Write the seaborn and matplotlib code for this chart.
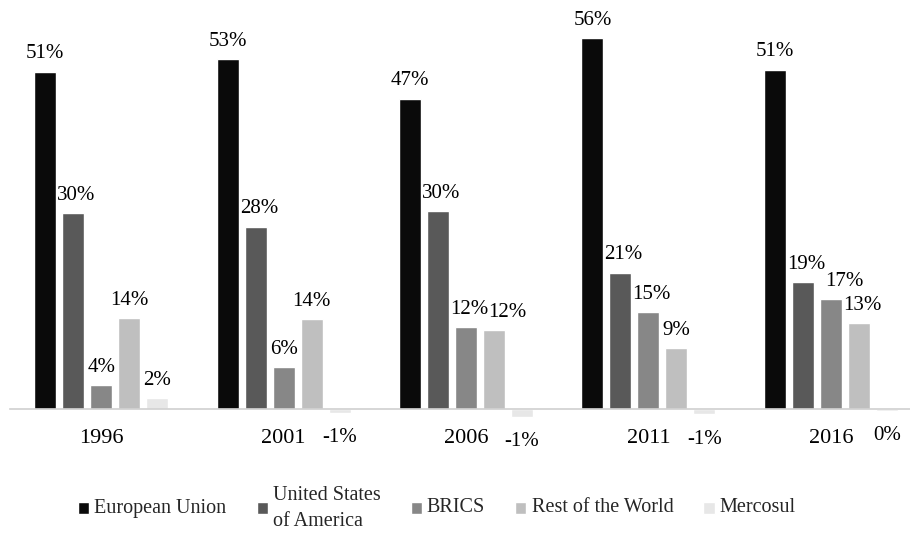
import matplotlib
matplotlib.use("Agg")
import matplotlib.pyplot as plt
import seaborn as sns
import pandas as pd

years = ["1996", "2001", "2006", "2011", "2016"]
series = ["European Union", "United States\nof America", "BRICS", "Rest of the World", "Mercosul"]
eu = [50.9, 52.8, 46.8, 55.9, 51.2]
usa = [29.6, 27.5, 29.9, 20.6, 19.1]
brics = [3.6, 6.3, 12.4, 14.6, 16.6]
rest = [13.7, 13.6, 11.9, 9.2, 13.0]
mercosul = [1.7, -0.6, -1.2, -0.8, -0.3]
colors = ["#0a0a0a", "#595959", "#878787", "#bfbfbf", "#e7e7e7"]

rows = []
for name, vals in zip(series, [eu, usa, brics, rest, mercosul]):
    for y, v in zip(years, vals):
        rows.append({"year": y, "series": name, "value": v})
df = pd.DataFrame(rows)

sns.set_theme(style="white")
plt.rcParams["font.family"] = ["Liberation Serif", "DejaVu Serif"]

fig = plt.figure(figsize=(9.10, 5.33), dpi=100)
# baseline at y=409px, 6.63 px per percentage point, xlim -0.5..4.5 -> 10..922px
ax = fig.add_axes([10 / 910, (533 - 429) / 533, 912 / 910, 63 * 6.63 / 533])
sns.barplot(df, x="year", y="value", hue="series", palette=colors,
            width=0.767, gap=0.214, saturation=1, ax=ax, legend=True)
ax.set_xlim(-0.5, 4.5)
ax.set_ylim(-3, 60)

# labels[group][series] = (annotation, bar)
labels = [[] for _ in years]
for cont in ax.containers:
    for g, bar in enumerate(cont):
        h = bar.get_height()
        x = bar.get_x() + bar.get_width() / 2
        txt = f"{round(h):d}%"
        if h >= 0:
            a = ax.annotate(txt, (x, h), xytext=(0, 6), textcoords="offset points",
                            ha="center", va="bottom", fontsize=15, color="black")
        else:
            a = ax.annotate(txt, (x, h), xytext=(0, -11), textcoords="offset points",
                            ha="center", va="top", fontsize=15, color="black")
        labels[g].append((a, bar))

for s in ["top", "right", "left"]:
    ax.spines[s].set_visible(False)
ax.spines["bottom"].set_position(("data", 0))
ax.spines["bottom"].set_color("#d0d0d0")
ax.spines["bottom"].set_linewidth(1.2)
ax.set_yticks([])
ax.tick_params(axis="x", length=0, pad=14, labelsize=16, labelcolor="black")
ax.set_xlabel("")
ax.set_ylabel("")

# nudge labels right when they run into the previous bar or label (like Excel)
fig.canvas.draw()
r = fig.canvas.get_renderer()
for group in labels:
    for i in range(1, len(group)):
        a, bar = group[i]
        if bar.get_height() < 0:
            continue
        bb = a.get_window_extent(r)
        shift = 0
        pa, pbar = group[i - 1]
        pbb = pbar.get_window_extent(r)
        if bb.y0 < pbb.y1:
            shift = max(shift, pbb.x1 + 1 - bb.x0)
        plb = pa.get_window_extent(r)
        if bb.y0 < plb.y1 and bb.y1 > plb.y0:
            shift = max(shift, plb.x1 - bb.x0)
        if shift > 0:
            dx, dy = a.xyann
            a.xyann = (dx + shift * 72 / fig.dpi, dy)

handles, labs = ax.get_legend_handles_labels()
ax.get_legend().remove()
leg = fig.legend(handles, labs, ncol=5, frameon=False, loc="center",
                 bbox_to_anchor=(437 / 910, 1 - 508 / 533), fontsize=14.5,
                 handlelength=0.55, handleheight=0.55, handletextpad=0.25,
                 columnspacing=1.5, labelcolor="#262626")
for t in leg.get_texts():
    t.set_linespacing(1.5)
leg._legend_handle_box.align = "center"
for col in leg._legend_handle_box.get_children():
    for entry in col.get_children():
        entry.align = "center"

fig.savefig("out.png", dpi=100)
